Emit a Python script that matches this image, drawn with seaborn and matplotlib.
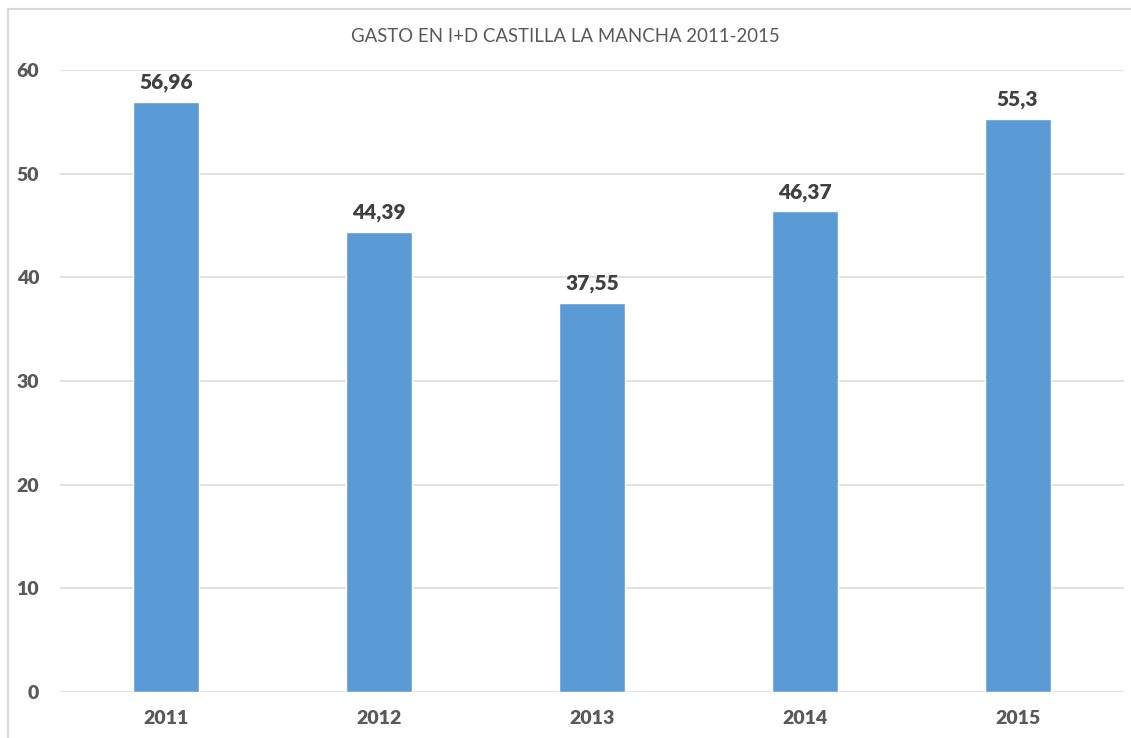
import matplotlib
matplotlib.use("Agg")
import matplotlib.pyplot as plt
import matplotlib.patches as mpatches
import seaborn as sns
import pandas as pd

years = ["2011", "2012", "2013", "2014", "2015"]
gasto = [56.96, 44.39, 37.55, 46.37, 55.3]
value_labels = ["56,96", "44,39", "37,55", "46,37", "55,3"]
y_ticks = [0, 10, 20, 30, 40, 50, 60]
title = "GASTO EN I+D CASTILLA LA MANCHA 2011-2015"

sns.set_style("white")
plt.rcParams["font.family"] = ["Lato", "DejaVu Sans"]

W, H = 1131, 738
fig = plt.figure(figsize=(W / 100, H / 100), dpi=100)
ax = fig.add_axes([60 / W, (H - 692) / H, (1124 - 60) / W, (692 - 70) / H])

df = pd.DataFrame({"year": years, "gasto": gasto})
sns.barplot(data=df, x="year", y="gasto", color="#5B9BD5", saturation=1,
            width=0.31, ax=ax, zorder=3)

ax.set_ylim(0, 60)
ax.set_xlim(-0.5, 4.5)
ax.set_yticks(y_ticks)
ax.set_yticklabels([str(t) for t in y_ticks])
ax.yaxis.grid(True, color="#d9d9d9", linewidth=1.1, zorder=0)
ax.set_axisbelow(True)
for s in ax.spines.values():
    s.set_visible(False)
ax.tick_params(axis="both", length=0, labelsize=14, labelcolor="#595959")
ax.tick_params(axis="y", pad=15)
ax.tick_params(axis="x", pad=13)
for lab in ax.get_xticklabels() + ax.get_yticklabels():
    lab.set_fontweight("heavy")
ax.set_xlabel("")
ax.set_ylabel("")

for i, (v, lab) in enumerate(zip(gasto, value_labels)):
    ax.annotate(lab, (i, v), xytext=(0, 7), textcoords="offset points",
                ha="center", va="bottom", fontsize=15, fontweight="heavy",
                color="#404040")

fig.text(0.5, 1 - 36 / H, title, ha="center", va="center",
         fontsize=13.4, color="#595959")

# outer chart frame
fig.patches.append(mpatches.Rectangle((8 / W, -0.05), 1.2, 1 - 9 / H + 0.05,
                                      transform=fig.transFigure, fill=False,
                                      edgecolor="#d9d9d9", linewidth=1.5))

fig.savefig("out.png", dpi=100)
